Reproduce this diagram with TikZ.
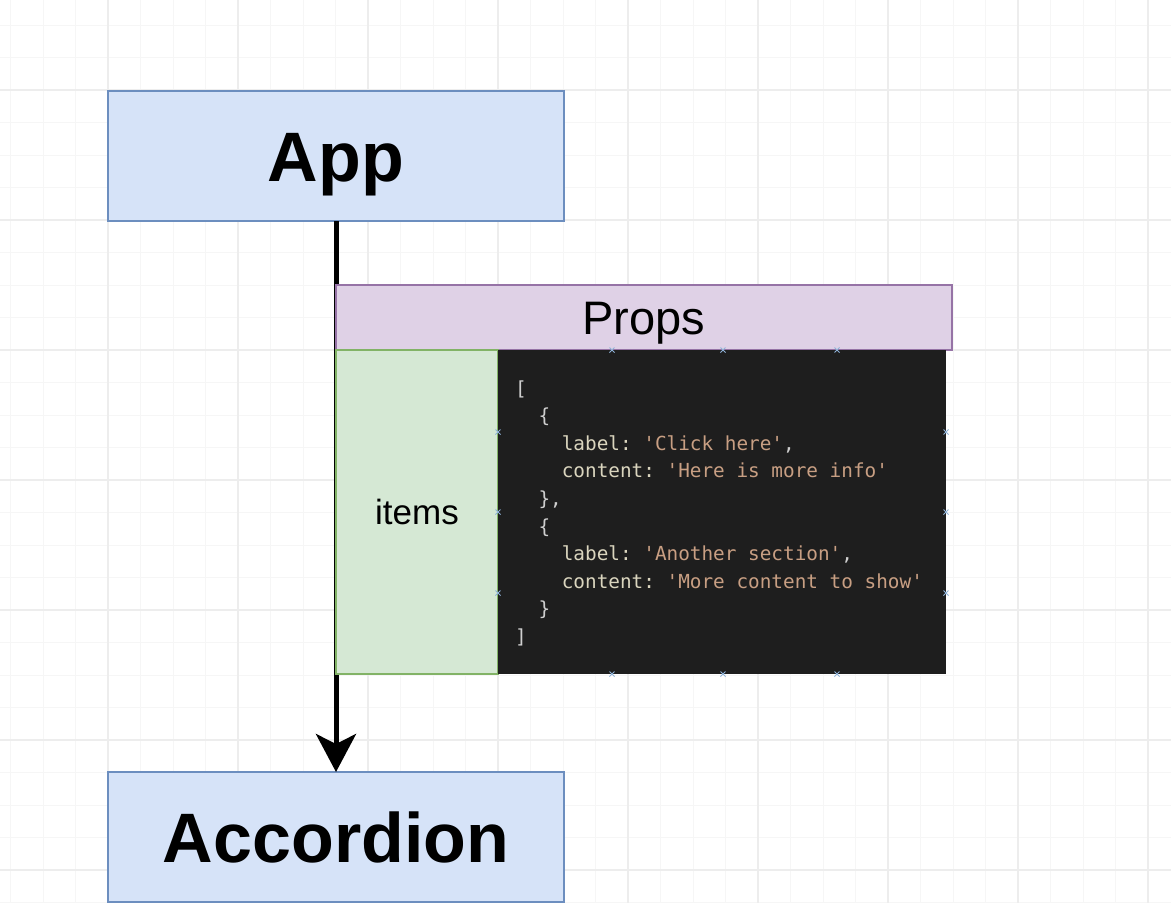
\documentclass[tikz,border=0pt]{standalone}
\usepackage{fontspec}
\setmainfont{Liberation Sans}
\setmonofont{DejaVu Sans Mono}
\usetikzlibrary{arrows.meta}
\definecolor{bluefill}{HTML}{D6E3F8}
\definecolor{blueline}{HTML}{6C8EBF}
\definecolor{purplefill}{HTML}{DFD1E6}
\definecolor{purpleline}{HTML}{9673A6}
\definecolor{greenfill}{HTML}{D5E8D4}
\definecolor{greenline}{HTML}{82B366}
\definecolor{codebg}{HTML}{1E1E1E}
\definecolor{codepunct}{HTML}{CFCFCF}
\definecolor{codekey}{HTML}{DAD5BE}
\definecolor{codestr}{HTML}{C89F83}
\definecolor{gridminor}{HTML}{F6F6F6}
\definecolor{gridmajor}{HTML}{EDEDED}
\definecolor{handle}{HTML}{8FB3D9}
\newcommand\ky[1]{{\color{codekey}#1}}
\newcommand\st[1]{{\color{codestr}#1}}
\begin{document}
\begin{tikzpicture}[x=1pt,y=-1pt,
  box/.style={draw, line width=2.6pt, inner sep=0pt, outer sep=0pt, anchor=north west},
  comp/.style={box, fill=bluefill, draw=blueline, minimum width=456pt, minimum height=130pt,
    font=\fontsize{70}{84}\selectfont\bfseries, text height=50pt, text depth=0pt},
  propsbox/.style={box, fill=purplefill, draw=purpleline, minimum width=616pt, minimum height=65pt,
    font=\fontsize{47}{56}\selectfont, text height=33.6pt, text depth=0pt},
  itemsbox/.style={box, fill=greenfill, draw=greenline, minimum width=162pt, minimum height=324pt,
    font=\fontsize{35}{42}\selectfont, text height=25pt, text depth=0pt},
  codebox/.style={fill=codebg, inner sep=0pt, outer sep=0pt, anchor=north west,
    minimum width=448pt, minimum height=324pt},
  codeline/.style={anchor=base west, inner sep=0pt, text=codepunct,
    font=\fontsize{19.35}{23}\ttfamily},
  flow/.style={line width=5pt, -{Stealth[length=38pt,width=40pt,inset=10pt]}},
  handlemark/.style={handle, line width=0.8pt}
]
\useasboundingbox (0,0) rectangle (1171,903);
\fill[white] (0,0) rectangle (1171,903);
% grid
\foreach \i in {0,...,35} \draw[gridminor, line width=1pt] (10.5+32.5*\i,0) -- (10.5+32.5*\i,903);
\foreach \i in {0,...,27} \draw[gridminor, line width=1pt] (0,25+32.5*\i) -- (1171,25+32.5*\i);
\foreach \i in {0,...,8} \draw[gridmajor, line width=1.2pt] (108+130*\i,0) -- (108+130*\i,903);
\foreach \i in {0,...,6} \draw[gridmajor, line width=1.2pt] (0,90+130*\i) -- (1171,90+130*\i);

% components
\node[comp] (app) at (108,91) {App};
\node[comp] (acc) at (108,772) {Accordion};
\draw[flow] (app.south) -- (acc.north);

% props
\node[propsbox] (props) at (336,285) {Props};
\node[itemsbox] (items) at (336,350) {items};
\node[codebox] (code) at (498,350) {};

% code text
\node[codeline] (c0) at (515,395) {[};
\node[codeline] (c1) at (538.3,422.6) {\{};
\node[codeline] (c2) at (561.6,450.2) {\ky{label:} \st{'Click here'},};
\node[codeline] (c3) at (561.6,477.8) {\ky{content:} \st{'Here is more info'}};
\node[codeline] (c4) at (538.3,505.4) {\},};
\node[codeline] (c5) at (538.3,533.0) {\{};
\node[codeline] (c6) at (561.6,560.6) {\ky{label:} \st{'Another section'},};
\node[codeline] (c7) at (561.6,588.2) {\ky{content:} \st{'More content to show'}};
\node[codeline] (c8) at (538.3,615.8) {\}};
\node[codeline] (c9) at (515,643.4) {]};

% selection handles
\foreach \p in {(612,350),(723,350),(837,350),(612,674),(723,674),(837,674),
                (498,432),(498,512),(498,593),(946,432),(946,512),(946,593)}
  \draw[handlemark] \p ++(-2.5,-2.5) -- ++(5,5) \p ++(-2.5,2.5) -- ++(5,-5);
\end{tikzpicture}
\end{document}
